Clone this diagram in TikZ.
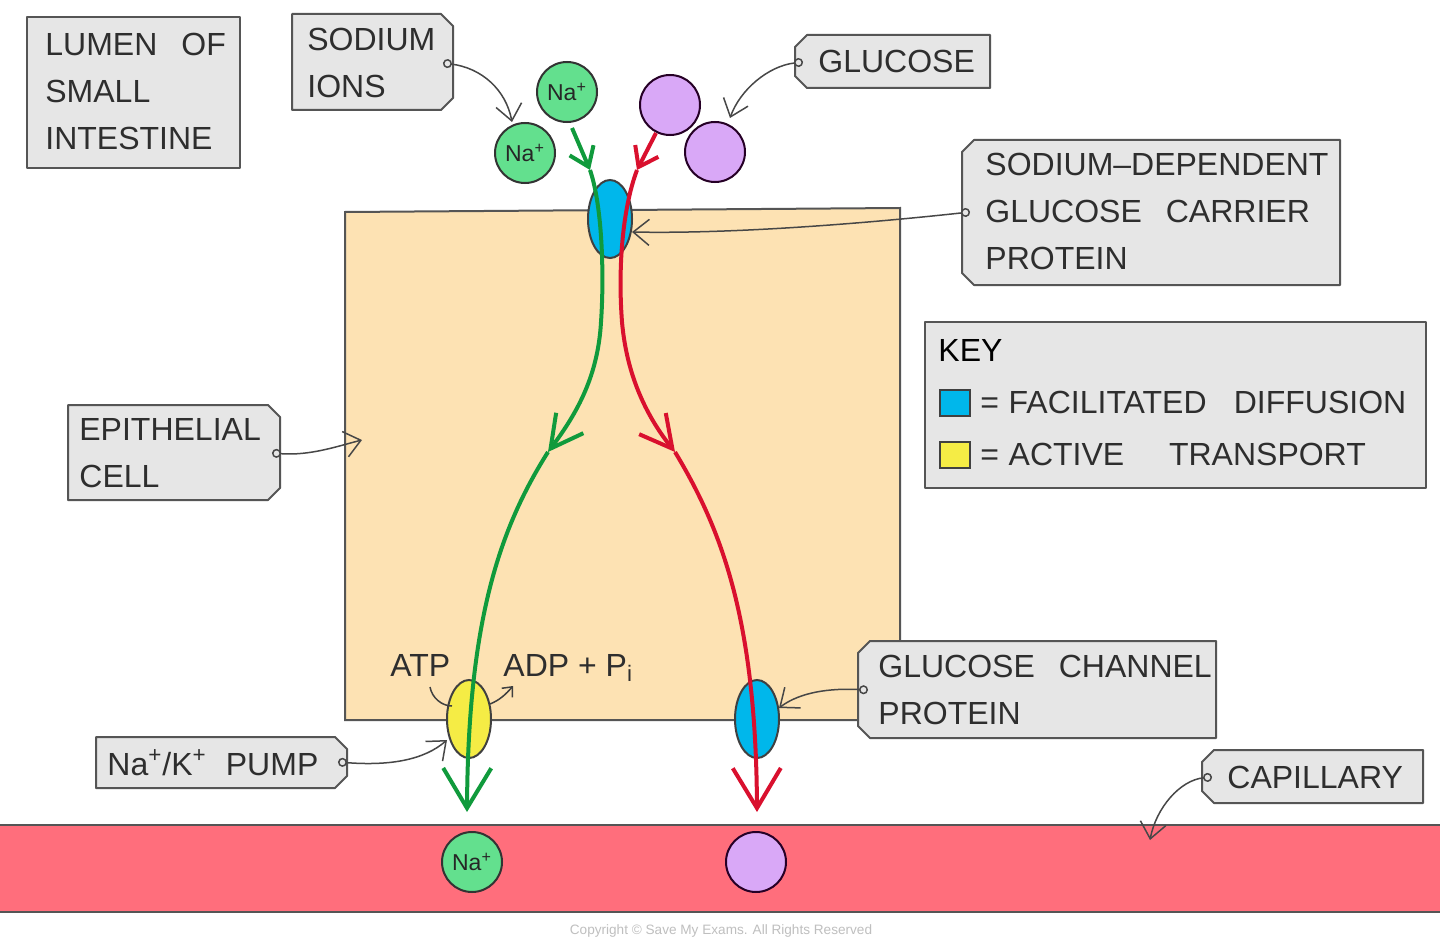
\documentclass[tikz,border=0pt]{standalone}
\usepackage{fontspec}
\setmainfont{Liberation Sans}
\usetikzlibrary{arrows.meta,shapes.geometric}
\definecolor{tagfill}{HTML}{E6E6E6}
\definecolor{edge}{HTML}{555555}
\definecolor{txt}{HTML}{2E2E2E}
\definecolor{cellfill}{HTML}{FDE2B3}
\definecolor{nagreen}{HTML}{63E08E}
\definecolor{glu}{HTML}{D9A8F7}
\definecolor{blueprot}{HTML}{00B7EB}
\definecolor{yellowprot}{HTML}{F5EC45}
\definecolor{capfill}{HTML}{FF6E7C}
\definecolor{garrow}{HTML}{109A3C}
\definecolor{rarrow}{HTML}{D9102E}
\newcommand\tagRight[4]{\draw[tagbox] (#1,#2) -- ({#3-12},#2) -- (#3,{#2+12}) -- (#3,{#4-12}) -- ({#3-12},#4) -- (#1,#4) -- cycle;}
\newcommand\tagLeft[4]{\draw[tagbox] ({#1+12},#2) -- (#3,#2) -- (#3,#4) -- ({#1+12},#4) -- (#1,{#4-12}) -- (#1,{#2+12}) -- cycle;}
\begin{document}
\begin{tikzpicture}[x=0.5pt,y=-0.5pt,
  tagbox/.style={fill=tagfill,draw=edge,line width=1pt,line join=round},
  lbl/.style={font=\fontsize{16}{23.4}\selectfont,text=txt,align=left,inner sep=0pt},
  pointer/.style={draw=black!72,line width=0.75pt,{Circle[length=4.5pt,fill=tagfill]}-{Straight Barb[length=8pt,width=13pt]}},
  naion/.style={circle,draw=black!80,line width=1pt,fill=nagreen,minimum size=30pt,inner sep=0pt,font=\fontsize{11.5}{12}\selectfont,text=black!85},
  gluion/.style={circle,draw=black!70!violet,line width=1pt,fill=glu,minimum size=30pt,inner sep=0pt},
  protein/.style={ellipse,draw=black!75,line width=1pt,minimum width=22pt,minimum height=39pt,inner sep=0pt},
  flowg/.style={draw=garrow,line width=2pt},
  flowr/.style={draw=rarrow,line width=2pt},
  barbS/.style={-{Straight Barb[length=9pt,width=13pt]}},
  barbM/.style={-{Straight Barb[length=16pt,width=17pt]}},
  barbL/.style={-{Straight Barb[length=20pt,width=24pt]}},
  keysq/.style={draw=black!75,line width=1pt,minimum width=15pt,minimum height=13pt,inner sep=0pt}
]
\useasboundingbox (0,0) rectangle (1440,947);
\fill[white] (0,0) rectangle (1440,947);

% epithelial cell
\draw[fill=cellfill,draw=edge,line width=1pt] (345,212) -- (900,208) -- (900,720) -- (345,720) -- cycle;
% capillary
\draw[fill=capfill,draw=edge,line width=1pt] (-10,825) rectangle (1450,912);

% tags and boxes
\draw[tagbox] (27,17) rectangle (240,168);
\node[lbl,anchor=north west] (lumen) at (45,33) {LUMEN\hspace{0.75em}OF\\SMALL\\INTESTINE};

\tagRight{292}{14}{453}{110}
\node[lbl,anchor=north west] (sodium) at (307,28) {SODIUM\\IONS};
\coordinate (dsod) at (443,63);

\tagLeft{795}{35}{990}{88}
\node[lbl,anchor=base west] (glucose) at (818,73) {GLUCOSE};
\coordinate (dglu) at (803,62);

\tagLeft{962}{140}{1340}{285}
\node[lbl,anchor=north west] (sdgcp) at (985,153) {SODIUM–DEPENDENT\\GLUCOSE\hspace{0.75em}CARRIER\\PROTEIN};
\coordinate (dsdg) at (970,212);

\tagRight{68}{405}{280}{500}
\node[lbl,anchor=north west] (epi) at (79,418) {EPITHELIAL\\CELL};
\coordinate (depi) at (272,453);

\tagRight{96}{737}{347}{788}
\node[lbl,anchor=base west] (pumplbl) at (107,775) {Na\textsuperscript{+}/K\textsuperscript{+}\hspace{0.6em}PUMP};
\coordinate (dpump) at (338,762);

\tagLeft{858}{641}{1216}{738}
\node[lbl,anchor=north west] (gcp) at (878,655) {GLUCOSE\hspace{0.75em}CHANNEL\\PROTEIN};
\coordinate (dgcp) at (868,690);

\tagLeft{1202}{750}{1423}{803}
\node[lbl,anchor=base west] (capl) at (1227,788) {CAPILLARY};
\coordinate (dcap) at (1212,777);

% key
\draw[tagbox] (925,322) rectangle (1426,488);
\node[lbl,anchor=base west,text=black] (key) at (938,361) {KEY};
\node[keysq,fill=blueprot] (kb) at (955,403) {};
\node[keysq,fill=yellowprot] (ky) at (955,455) {};
\node[lbl,anchor=base west] (kfd) at (980,413) {=\hspace{0.3em}FACILITATED\hspace{0.85em}DIFFUSION};
\node[lbl,anchor=base west] (kat) at (980,465) {=\hspace{0.3em}ACTIVE\hspace{1.4em}TRANSPORT};

% proteins
\node[protein,fill=blueprot] (sglt) at (610,219) {};
\node[protein,fill=yellowprot] (pump) at (469,719) {};
\node[protein,fill=blueprot] (glut) at (757,719) {};

% ions
\node[naion] (na1) at (567,92) {Na\textsuperscript{+}};
\node[naion] (na2) at (525,153) {Na\textsuperscript{+}};
\node[gluion] (g1) at (670,105) {};
\node[gluion] (g2) at (715,152) {};
\node[naion] (na3) at (472,862) {Na\textsuperscript{+}};
\node[gluion] (g3) at (756,862) {};

% green flow (sodium)
\coordinate (gs) at (572,128);
\coordinate (g1t) at (590,170);
\coordinate (g2t) at (548,452);
\coordinate (g3t) at (467,812);
\draw[flowg,barbS] (gs) -- (g1t);
\draw[flowg,barbM] (g1t) .. controls (603,208) and (604,280) .. (601,322) .. controls (598,375) and (578,412) .. (g2t);
\draw[flowg,barbL] (g2t) .. controls (500,528) and (468,620) .. (g3t);

% red flow (glucose)
\coordinate (rs) at (656,133);
\coordinate (r1t) at (637,170);
\coordinate (r2t) at (675,452);
\coordinate (r3t) at (757,812);
\draw[flowr,barbS] (rs) -- (r1t);
\draw[flowr,barbM] (r1t) .. controls (622,210) and (618,270) .. (622,322) .. controls (627,378) and (648,418) .. (r2t);
\draw[flowr,barbL] (r2t) .. controls (722,530) and (756,620) .. (r3t);

% ATP / ADP
\node[lbl,anchor=base west] (atp) at (390,676) {ATP};
\node[lbl,anchor=base west] (adp) at (503,676) {ADP + P\textsubscript{i}};
\coordinate (atpa) at (430,687);
\coordinate (atpb) at (452,706);
\draw[draw=black!75,line width=0.75pt] (atpa) .. controls (432,698) and (442,706) .. (atpb);
\coordinate (adpa) at (490,704);
\coordinate (adpb) at (513,686);
\draw[draw=black!75,line width=0.75pt,-{Straight Barb[length=4pt,width=7pt]}] (adpa) .. controls (500,700) and (506,694) .. (adpb);

% pointers
\coordinate (tsod) at (512,122);
\coordinate (tglu) at (730,118);
\coordinate (tsdg) at (632,232);
\coordinate (tepi) at (362,440);
\coordinate (tpump) at (447,740);
\coordinate (tgcp) at (779,708);
\coordinate (tcap) at (1150,840);
\draw[pointer] (dsod) .. controls (482,68) and (506,90) .. (tsod);
\draw[pointer] (dglu) .. controls (768,66) and (740,90) .. (tglu);
\draw[pointer] (dsdg) .. controls (860,224) and (730,234) .. (tsdg);
\draw[pointer] (depi) .. controls (310,456) and (338,446) .. (tepi);
\draw[pointer] (dpump) .. controls (390,766) and (424,760) .. (tpump);
\draw[pointer] (dgcp) .. controls (830,688) and (800,692) .. (tgcp);
\draw[pointer] (dcap) .. controls (1180,780) and (1156,808) .. (tcap);

% copyright
\node[font=\fontsize{6.8}{8}\selectfont,text=black!25,inner sep=0pt] (copy) at (721,931) {Copyright © Save My Exams. All Rights Reserved};
\end{tikzpicture}
\end{document}
